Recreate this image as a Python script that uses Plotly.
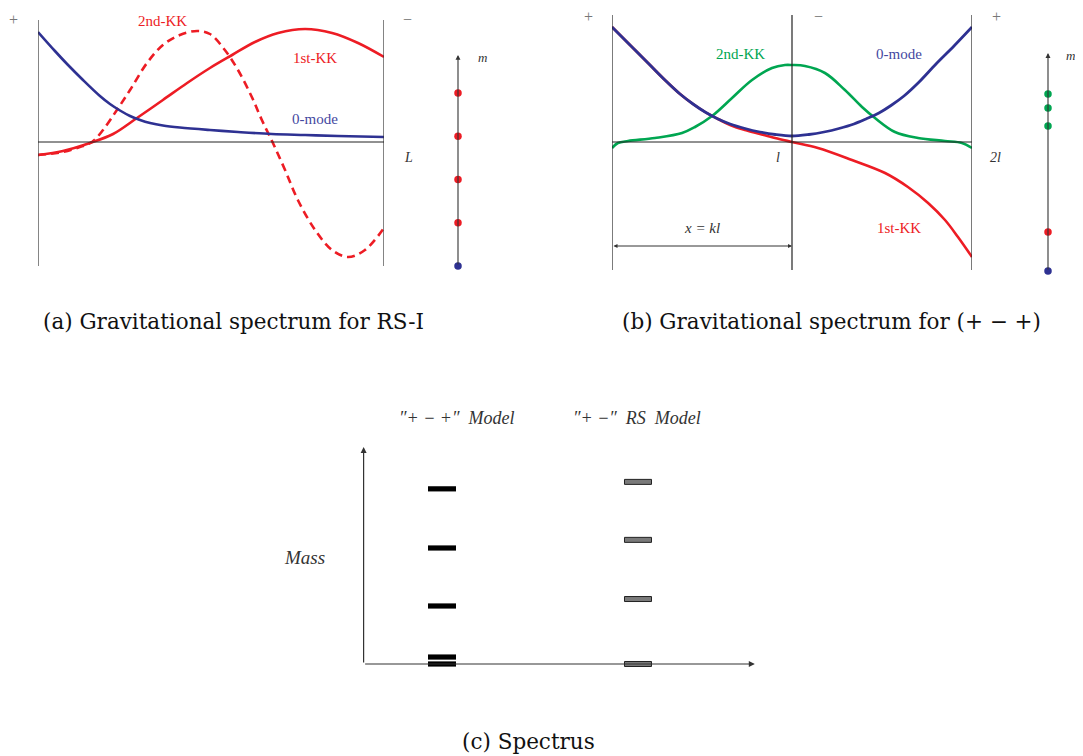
import plotly.graph_objects as go

# ---------------- data ----------------
# Panel (a): RS-I wave functions, x in units of L
a_zero_x = [0, 0.049, 0.084, 0.130, 0.179, 0.208, 0.237, 0.266, 0.295, 0.324, 0.361, 0.410,
            0.497, 0.578, 0.676, 0.772, 0.867, 1.0]
a_zero_y = [1.10, 0.91, 0.78, 0.62, 0.46, 0.38, 0.315, 0.26, 0.22, 0.19, 0.165, 0.145,
            0.12, 0.10, 0.08, 0.07, 0.06, 0.05]
a_kk1_x = [0, 0.072, 0.150, 0.217, 0.286, 0.361, 0.431, 0.497, 0.561, 0.627, 0.694, 0.772, 0.850, 0.925, 1.0]
a_kk1_y = [-0.13, -0.09, -0.01, 0.08, 0.24, 0.42, 0.59, 0.74, 0.87, 1.00, 1.09, 1.13, 1.09, 0.99, 0.85]
a_kk2_x = [0, 0.072, 0.121, 0.156, 0.188, 0.228, 0.266, 0.315, 0.361, 0.410, 0.460, 0.497, 0.540,
           0.578, 0.618, 0.647, 0.679, 0.714, 0.751, 0.801, 0.850, 0.896, 0.945, 1.0]
a_kk2_y = [-0.13, -0.10, -0.05, 0.0, 0.12, 0.32, 0.52, 0.79, 0.97, 1.07, 1.11, 1.08, 0.92,
           0.72, 0.45, 0.22, -0.01, -0.28, -0.58, -0.88, -1.08, -1.15, -1.08, -0.86]
a_masses = [0, 1, 2, 3, 4]
a_mass_modes = ["0-mode", "KK", "KK", "KK", "KK"]

# Panel (b): (+ - +) wave functions, x in units of l
b_zero_x = [0, 0.10, 0.20, 0.294, 0.378, 0.45, 0.517, 0.589, 0.656, 0.739, 0.822, 0.906, 1.0,
            1.094, 1.178, 1.261, 1.344, 1.411, 1.483, 1.55, 1.622, 1.706, 1.80, 1.90, 2.0]
b_zero_y = [1.15, 0.97, 0.79, 0.62, 0.48, 0.38, 0.30, 0.23, 0.18, 0.135, 0.10, 0.075, 0.06,
            0.075, 0.10, 0.135, 0.18, 0.23, 0.29, 0.365, 0.46, 0.60, 0.78, 0.96, 1.15]
b_kk1_x = [0, 0.10, 0.20, 0.294, 0.378, 0.45, 0.517, 0.589, 0.656, 0.739, 0.822, 0.906, 1.0,
           1.144, 1.333, 1.517, 1.644, 1.756, 1.850, 1.922, 2.0]
b_kk1_y = [1.15, 0.97, 0.79, 0.62, 0.48, 0.38, 0.30, 0.23, 0.17, 0.12, 0.08, 0.04, 0.0,
           -0.06, -0.18, -0.31, -0.45, -0.61, -0.78, -0.95, -1.15]
b_kk2_x = [0, 0.033, 0.089, 0.239, 0.389, 0.461, 0.556, 0.667, 0.778, 0.889, 0.961, 1.0,
           1.072, 1.183, 1.294, 1.389, 1.461, 1.572, 1.700, 1.850, 1.944, 2.0]
b_kk2_y = [-0.06, -0.01, 0.01, 0.04, 0.09, 0.15, 0.26, 0.44, 0.62, 0.74, 0.77, 0.77,
           0.76, 0.69, 0.52, 0.35, 0.24, 0.10, 0.04, 0.01, -0.01, -0.06]
b_masses = [0, 0.90, 3.35, 3.77, 4.09]
b_mass_modes = ["0-mode", "1st-KK", "KK", "KK", "KK"]

# Panel (c): spectra
c_models = ["″+ − +″  Model", "″+ −″  RS  Model"]
c_pmp_levels = [0, 0.12, 1.0, 2.0, 3.02]
c_rs_levels = [0, 1.12, 2.14, 3.14]

# ---------------- styles / layout helpers ----------------
RED, BLUE, GREEN = "#ED1C24", "#2E3192", "#00A651"
mode_color = {"0-mode": BLUE, "KK": RED, "1st-KK": RED}
b_mode_color = {"0-mode": BLUE, "1st-KK": RED, "KK": GREEN}
SERIF = "Liberation Serif, Times New Roman, serif"
CAP_FONT = "DejaVu Serif, serif"

OFF = 8                      # page body margin
FW, FH = 1083 - OFF, 756 - OFF


def xdom(p0, p1):
    return [(p0 - OFF) / FW, (p1 - OFF) / FW]


def ydom(top, bottom):
    return [1 - (bottom - OFF) / FH, 1 - (top - OFF) / FH]


def px(x):
    return (x - OFF) / FW


def py(y):
    return 1 - (y - OFF) / FH


fig = go.Figure()

# panel (a) curves
fig.add_trace(go.Scatter(x=a_kk2_x, y=a_kk2_y, mode="lines", xaxis="x", yaxis="y",
                         line=dict(color=RED, width=2.6, shape="spline", dash="8px,5px")))
fig.add_trace(go.Scatter(x=a_kk1_x, y=a_kk1_y, mode="lines", xaxis="x", yaxis="y",
                         line=dict(color=RED, width=2.6, shape="spline")))
fig.add_trace(go.Scatter(x=a_zero_x, y=a_zero_y, mode="lines", xaxis="x", yaxis="y",
                         line=dict(color=BLUE, width=2.6, shape="spline")))

# ladder (a)
fig.add_trace(go.Scatter(x=[0] * len(a_masses), y=a_masses, mode="markers", xaxis="x2", yaxis="y2",
                         marker=dict(size=7.5, color=[mode_color[m] for m in a_mass_modes])))

# panel (b) curves
fig.add_trace(go.Scatter(x=b_kk1_x, y=b_kk1_y, mode="lines", xaxis="x3", yaxis="y3",
                         line=dict(color=RED, width=2.6, shape="spline")))
fig.add_trace(go.Scatter(x=b_kk2_x, y=b_kk2_y, mode="lines", xaxis="x3", yaxis="y3",
                         line=dict(color=GREEN, width=2.6, shape="spline")))
fig.add_trace(go.Scatter(x=b_zero_x, y=b_zero_y, mode="lines", xaxis="x3", yaxis="y3",
                         line=dict(color=BLUE, width=2.8, shape="spline")))

# ladder (b)
fig.add_trace(go.Scatter(x=[0] * len(b_masses), y=b_masses, mode="markers", xaxis="x4", yaxis="y4",
                         marker=dict(size=7.5, color=[b_mode_color[m] for m in b_mass_modes])))

# invisible anchor for panel (c)
fig.add_trace(go.Scatter(x=[0], y=[0], mode="markers", xaxis="x5", yaxis="y5",
                         marker=dict(size=1, color="rgba(0,0,0,0)")))

shapes = []
# panel (a) frame lines
for xv in [0, 1]:
    shapes.append(dict(type="line", xref="x", yref="y", x0=xv, x1=xv, y0=-1.24, y1=1.22,
                       line=dict(color="#333", width=1.2)))
shapes.append(dict(type="line", xref="x", yref="y", x0=0, x1=1, y0=0, y1=0,
                   line=dict(color="#222", width=1)))
# panel (b) frame lines
for xv in [0, 1, 2]:
    shapes.append(dict(type="line", xref="x3", yref="y3", x0=xv, x1=xv, y0=-1.28, y1=1.27,
                       line=dict(color="#222", width=1.2)))
shapes.append(dict(type="line", xref="x3", yref="y3", x0=0, x1=2, y0=0, y1=0,
                   line=dict(color="#222", width=1)))

# panel (c) spectrum bars
COL_PMP, COL_RS = 2, 7
for lv in c_pmp_levels:
    shapes.append(dict(type="rect", xref="x5", yref="y5", xsizemode="pixel", ysizemode="pixel",
                       xanchor=COL_PMP, yanchor=lv, x0=-14, x1=14, y0=-2.6, y1=2.6,
                       fillcolor="black", line=dict(width=0)))
for lv in c_rs_levels:
    shapes.append(dict(type="rect", xref="x5", yref="y5", xsizemode="pixel", ysizemode="pixel",
                       xanchor=COL_RS, yanchor=lv, x0=-13.5, x1=13.5, y0=-2.5, y1=2.5,
                       fillcolor="#7a7a7a", line=dict(color="#222", width=1)))

ann = []


def text(x, y, s, size=15, color="#222", italic=False, family=SERIF):
    ann.append(dict(x=px(x), y=py(y), xref="paper", yref="paper", text=f"<i>{s}</i>" if italic else s,
                    showarrow=False, xanchor="center", yanchor="middle",
                    font=dict(family=family, size=size, color=color)))


def arrow(xref, yref, x, y, ax, ay, both=False, size=0.9, width=1.1):
    ann.append(dict(x=x, y=y, ax=ax, ay=ay, xref=xref, yref=yref, axref=xref, ayref=yref,
                    text="", showarrow=True, arrowhead=2, arrowsize=size, arrowwidth=width,
                    arrowcolor="#333", arrowside="end+start" if both else "end"))


# panel (a) labels
text(13, 20, "+", 16, "#777")
text(407, 20, "−", 16, "#777")
text(162, 21, "2nd-KK", 15, RED)
text(315, 58, "1st-KK", 15, RED)
text(315, 119, "0-mode", 15, "#4448a0")
text(408, 157, "L", 14, "#333", italic=True)
# ladder (a)
arrow("x2", "y2", 0, 4.88, 0, 0)
text(482, 57, "m", 13, "#333", italic=True)

# panel (b) labels
text(588, 16, "+", 16, "#777")
text(818, 16, "−", 16, "#777")
text(996, 16, "+", 16, "#777")
text(740, 54, "2nd-KK", 15, GREEN)
text(899, 54, "0-mode", 15, "#4448a0")
text(899, 228, "1st-KK", 15, RED)
text(778, 157, "l", 14, "#333", italic=True)
text(995, 157, "2l", 14, "#333", italic=True)
text(702, 228, "x = kl", 15, "#333", italic=True)
arrow("x3", "y3", 1, -1.04, 0, -1.04, both=True, size=0.8, width=1)
# ladder (b)
arrow("x4", "y4", 0, 5.04, 0, 0)
text(1070, 55, "m", 13, "#333", italic=True)

# panel (c) labels + axes
text(456, 418, c_models[0], 18, "#333", italic=True)
text(637, 418, c_models[1], 18, "#333", italic=True)
text(304, 557, "Mass", 19, "#333", italic=True)
arrow("x5", "y5", 0, 3.74, 0, 0, size=1, width=1.2)
arrow("x5", "y5", 9.98, 0, 0, 0, size=1, width=1.2)

# captions
text(233, 321, "(a) Gravitational spectrum for RS-I", 21.5, "#111", family=CAP_FONT)
text(831, 321, "(b) Gravitational spectrum for (+ − +)", 21.5, "#111", family=CAP_FONT)
text(528, 741, "(c) Spectrus", 21.5, "#111", family=CAP_FONT)

hidden = dict(visible=False, showgrid=False, zeroline=False, fixedrange=True)
fig.update_layout(
    width=FW, height=FH, margin=dict(l=0, r=0, t=0, b=0),
    paper_bgcolor="white", plot_bgcolor="rgba(0,0,0,0)", showlegend=False,
    xaxis=dict(domain=xdom(38, 384), range=[0, 1], **hidden),
    yaxis=dict(domain=ydom(20, 266), range=[-1.24, 1.22], anchor="x", **hidden),
    xaxis2=dict(domain=xdom(440, 476), range=[-1, 1], anchor="y2", **hidden),
    yaxis2=dict(domain=ydom(40, 280), range=[-0.324, 5.225], anchor="x2", **hidden),
    xaxis3=dict(domain=xdom(612, 972), range=[0, 2], anchor="y3", **hidden),
    yaxis3=dict(domain=ydom(15, 270), range=[-1.28, 1.27], anchor="x3", **hidden),
    xaxis4=dict(domain=xdom(1030, 1066), range=[-1, 1], anchor="y4", **hidden),
    yaxis4=dict(domain=ydom(40, 285), range=[-0.324, 5.34], anchor="x4", **hidden),
    xaxis5=dict(domain=xdom(360, 757), range=[-0.092, 10.036], anchor="y5", **hidden),
    yaxis5=dict(domain=ydom(440, 680), range=[-0.276, 3.862], anchor="x5", **hidden),
    shapes=shapes, annotations=ann,
)

fig.write_html("out.html")
